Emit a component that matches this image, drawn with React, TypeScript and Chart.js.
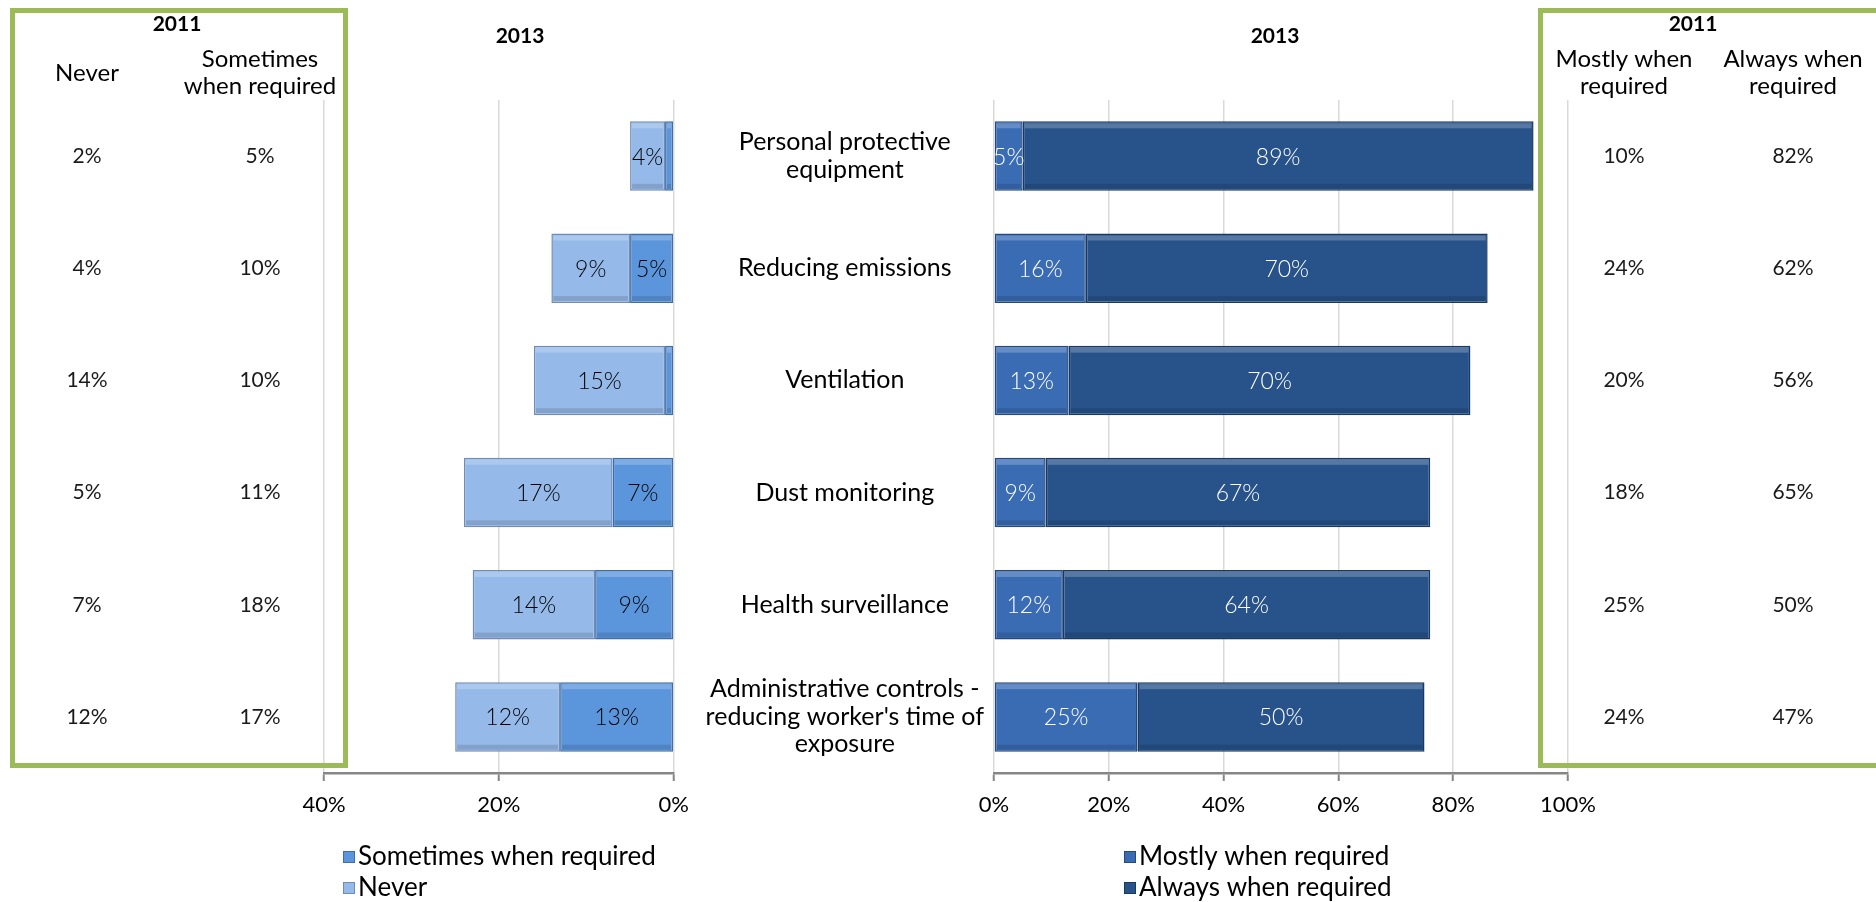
import React, { useEffect, useRef } from "react";
import { Chart, registerables } from "chart.js";

Chart.register(...registerables);

// ---------- data ----------
const categories: (string | string[])[] = [
  ["Personal protective", "equipment"],
  "Reducing emissions",
  "Ventilation",
  "Dust monitoring",
  "Health surveillance",
  ["Administrative controls -", "reducing worker's time of", "exposure"],
];

// 2013 (bars)
const sometimes2013 = [1, 5, 1, 7, 9, 13];
const never2013 = [4, 9, 15, 17, 14, 12];
const mostly2013 = [5, 16, 13, 9, 12, 25];
const always2013 = [89, 70, 70, 67, 64, 50];

// 2011 (tables)
const never2011 = [2, 4, 14, 5, 7, 12];
const sometimes2011 = [5, 10, 10, 11, 18, 17];
const mostly2011 = [10, 24, 20, 18, 25, 24];
const always2011 = [82, 62, 56, 65, 50, 47];

const leftAxisMax = 40;
const rightAxisMax = 100;
const tickStep = 20;
const yearOld = "2011";
const yearNew = "2013";

// ---------- style ----------
const FONT = "'Century Gothic', Lato, 'DejaVu Sans', sans-serif";
const GREEN = "#9BBB59";
const GRID = "#D9D9D9";
const AXIS = "#868686";

const C_NEVER = "#95B9E8";
const C_NEVER_B = "#6F8DB6";
const C_SOMETIMES = "#5B96DC";
const C_SOMETIMES_B = "#3F6DA6";
const C_MOSTLY = "#3A6CB4";
const C_MOSTLY_B = "#24497F";
const C_ALWAYS = "#27538A";
const C_ALWAYS_B = "#1A3960";

const W = 1876;
const H = 902;
const LEFT_W = 700;
const RIGHT_W = W - LEFT_W;

const decoPlugin = {
  id: "deco",
  afterDatasetsDraw(chart: any, _args: any, o: any) {
    const ctx = chart.ctx as CanvasRenderingContext2D;
    ctx.save();
    // bevel shading + segment labels
    chart.data.datasets.forEach((ds: any, i: number) => {
      const meta = chart.getDatasetMeta(i);
      meta.data.forEach((el: any, j: number) => {
        const left = Math.min(el.x, el.base);
        const right = Math.max(el.x, el.base);
        const top = el.y - el.height / 2;
        const bot = el.y + el.height / 2;
        const w = right - left;
        if (w > 4) {
          ctx.fillStyle = "rgba(255,255,255,0.22)";
          ctx.fillRect(left + 2, top + 2, w - 4, 5);
          ctx.fillStyle = "rgba(0,0,0,0.12)";
          ctx.fillRect(left + 2, bot - 7, w - 4, 5);
        }
        const v = ds.data[j];
        if (v < 3) return;
        const p = el.getCenterPoint();
        ctx.fillStyle = o.labelColor;
        ctx.font = `300 23px ${FONT}`;
        ctx.textAlign = "center";
        ctx.textBaseline = "middle";
        ctx.fillText(v + "%", p.x, p.y + 1);
      });
    });
    ctx.restore();
  },
  afterDraw(chart: any, _args: any, o: any) {
    const ctx = chart.ctx as CanvasRenderingContext2D;
    ctx.save();
    // green 2011 box
    ctx.strokeStyle = GREEN;
    ctx.lineWidth = 5;
    ctx.strokeRect(o.box[0], o.box[1], o.box[2], o.box[3]);

    ctx.fillStyle = "#000";
    ctx.textAlign = "center";
    ctx.textBaseline = "middle";
    ctx.font = `bold 21px ${FONT}`;
    ctx.fillText(yearOld, o.yearX, 24);
    ctx.fillText(yearNew, o.titleX, 36);

    // table headers and values
    const ys = chart.scales.y;
    o.columns.forEach((col: any) => {
      ctx.font = `24px ${FONT}`;
      ctx.fillStyle = "#000";
      const n = col.header.length;
      col.header.forEach((line: string, k: number) => {
        ctx.fillText(line, col.x, 73 + (k - (n - 1) / 2) * 27);
      });
      ctx.font = `21px ${FONT}`;
      ctx.fillStyle = "#1a1a1a";
      col.values.forEach((v: number, j: number) => {
        ctx.fillText(v + "%", col.x, ys.getPixelForValue(j));
      });
    });

    // legend (vertical list)
    ctx.textAlign = "left";
    ctx.font = `26px ${FONT}`;
    chart.data.datasets.forEach((ds: any, i: number) => {
      const y = o.legendY + i * 31;
      ctx.fillStyle = ds.backgroundColor;
      ctx.fillRect(o.legendX, y - 6, 12, 12);
      ctx.strokeStyle = ds.borderColor;
      ctx.lineWidth = 1;
      ctx.strokeRect(o.legendX + 0.5, y - 5.5, 11, 11);
      ctx.fillStyle = "#000";
      ctx.fillText(ds.label, o.legendX + 15, y);
    });
    ctx.restore();
  },
};

function xAxis(max: number, reverse: boolean) {
  return {
    stacked: true,
    reverse,
    min: 0,
    max,
    ticks: {
      stepSize: tickStep,
      color: "#000",
      font: { family: FONT, size: 22 },
      padding: 11,
      callback: (v: any) => v + "%",
    },
    grid: {
      color: GRID,
      lineWidth: 1.5,
      tickColor: AXIS,
      tickLength: 8,
      tickWidth: 2,
    },
    border: { color: AXIS, width: 2.5 },
    afterFit: (s: any) => {
      s.height = 50;
    },
  };
}

function barDs(label: string, data: number[], bg: string, bd: string) {
  return {
    label,
    data,
    backgroundColor: bg,
    borderColor: bd,
    borderWidth: 1.5,
    borderSkipped: false,
    barPercentage: 0.62,
    categoryPercentage: 1,
  };
}

const PLOT_TOP = 100;
const PLOT_BOTTOM = 773;
const BOTTOM_PAD = H - PLOT_BOTTOM - 50;

function leftConfig(): any {
  return {
    type: "bar",
    data: {
      labels: categories,
      datasets: [
        barDs("Sometimes when required", sometimes2013, C_SOMETIMES, C_SOMETIMES_B),
        barDs("Never", never2013, C_NEVER, C_NEVER_B),
      ],
    },
    options: {
      indexAxis: "y",
      responsive: false,
      maintainAspectRatio: false,
      animation: false,
      layout: { padding: { left: 324, right: LEFT_W - 679, top: PLOT_TOP, bottom: BOTTOM_PAD } },
      scales: {
        x: xAxis(leftAxisMax, true),
        y: { stacked: true, display: false },
      },
      plugins: {
        legend: { display: false },
        tooltip: { enabled: false },
        title: { display: false },
        deco: {
          labelColor: "#000",
          box: [12.5, 10.5, 333, 755],
          yearX: 177,
          titleX: 520,
          columns: [
            { x: 87, header: ["Never"], values: never2011 },
            { x: 260, header: ["Sometimes", "when required"], values: sometimes2011 },
          ],
          legendX: 343,
          legendY: 857,
        },
      },
    },
    plugins: [decoPlugin],
  };
}

function rightConfig(): any {
  const off = LEFT_W;
  return {
    type: "bar",
    data: {
      labels: categories,
      datasets: [
        barDs("Mostly when required", mostly2013, C_MOSTLY, C_MOSTLY_B),
        barDs("Always when required", always2013, C_ALWAYS, C_ALWAYS_B),
      ],
    },
    options: {
      indexAxis: "y",
      responsive: false,
      maintainAspectRatio: false,
      animation: false,
      layout: { padding: { left: 0, right: RIGHT_W - (1568 - off), top: PLOT_TOP, bottom: BOTTOM_PAD } },
      scales: {
        x: xAxis(rightAxisMax, false),
        y: {
          stacked: true,
          grid: { display: false },
          border: { display: false },
          ticks: {
            crossAlign: "center",
            padding: 2,
            color: "#000",
            font: { family: FONT, size: 25, lineHeight: 1.1 },
          },
          afterFit: (s: any) => {
            s.width = 994 - off;
          },
        },
      },
      plugins: {
        legend: { display: false },
        tooltip: { enabled: false },
        title: { display: false },
        deco: {
          labelColor: "#fff",
          box: [1540.5 - off, 10.5, 400, 755],
          yearX: 1693 - off,
          titleX: 1275 - off,
          columns: [
            { x: 1624 - off, header: ["Mostly when", "required"], values: mostly2011 },
            { x: 1793 - off, header: ["Always when", "required"], values: always2011 },
          ],
          legendX: 1124 - off,
          legendY: 857,
        },
      },
    },
    plugins: [decoPlugin],
  };
}

export default function App() {
  const leftRef = useRef<HTMLCanvasElement>(null);
  const rightRef = useRef<HTMLCanvasElement>(null);

  useEffect(() => {
    const c1 = new Chart(leftRef.current as HTMLCanvasElement, leftConfig());
    const c2 = new Chart(rightRef.current as HTMLCanvasElement, rightConfig());
    return () => {
      c1.destroy();
      c2.destroy();
    };
  }, []);

  return (
    <div
      style={{
        position: "absolute",
        left: 0,
        top: 0,
        width: W,
        height: H,
        background: "#fff",
        overflow: "hidden",
      }}
    >
      <canvas
        ref={leftRef}
        width={LEFT_W}
        height={H}
        style={{ position: "absolute", left: 0, top: 0, width: LEFT_W, height: H }}
      />
      <canvas
        ref={rightRef}
        width={RIGHT_W}
        height={H}
        style={{ position: "absolute", left: LEFT_W, top: 0, width: RIGHT_W, height: H }}
      />
    </div>
  );
}
